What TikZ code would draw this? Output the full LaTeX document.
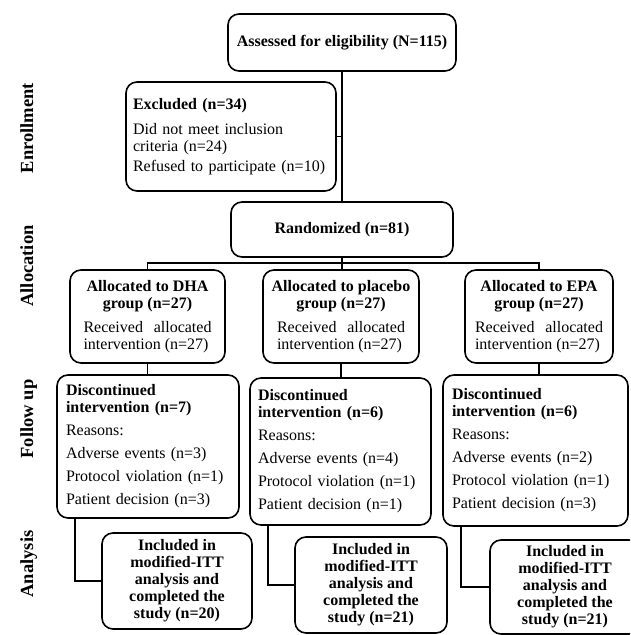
\documentclass[tikz,border=0pt]{standalone}
\usepackage{fontspec}
\setmainfont{Liberation Serif}

\tikzset{
  box/.style={draw, line width=1.6pt, rounded corners=11pt, inner sep=0pt,
    font=\fontsize{16}{17}\selectfont},
  anabox/.style={box, align=center, minimum height=96pt,
    font=\bfseries\fontsize{16}{17}\selectfont},
  phase/.style={rotate=90, anchor=base, font=\bfseries\fontsize{18.5}{20}\selectfont},
  link/.style={line width=1.6pt},
}
\newcommand{\recvd}{\makebox[128pt]{Received\hfill allocated}\\\makebox[128pt][l]{intervention (n=27)}}

\begin{document}
\begin{tikzpicture}[x=1pt,y=-1pt]
  \clip (0,0) rectangle (630,635);

  % phases
  \node[phase] (enrol)  at (33,128) {Enrollment};
  \node[phase] (alloc)  at (33,266) {Allocation};
  \node[phase] (follow) at (33,419) {Follow up};
  \node[phase] (analy)  at (33,564) {Analysis};

  % enrollment
  \node[box, minimum width=228pt, minimum height=57pt] (assess) at (342,42.5)
    {\textbf{Assessed for eligibility (N=115)}};
  \node[box, align=left, text width=196pt, inner xsep=7pt, minimum height=109pt] (excl) at (231,136.5)
    {\textbf{Excluded (n=34)}\\[8pt]Did not meet inclusion\\criteria (n=24)\\[3pt]Refused to participate (n=10)};
  \node[box, minimum width=222pt, minimum height=55pt] (rand) at (342,229.5)
    {\textbf{Randomized (n=81)}};

  % allocation
  \node[box, align=center, minimum width=155pt, minimum height=93pt] (dha) at (147.5,316.5)
    {\textbf{Allocated to DHA}\\\textbf{group (n=27)}\\[7pt]\recvd};
  \node[box, align=center, minimum width=156pt, minimum height=93pt] (plc) at (341,316.5)
    {\textbf{Allocated to placebo}\\\textbf{group (n=27)}\\[7pt]\recvd};
  \node[box, align=center, minimum width=148pt, minimum height=93pt] (epa) at (539,316.5)
    {\textbf{Allocated to EPA}\\\textbf{group (n=27)}\\[7pt]\recvd};

  % follow up
  \node[box, align=left, text width=164pt, inner xsep=9pt, minimum height=143pt] (dhafu) at (148,446.5)
    {\textbf{Discontinued}\\\textbf{intervention (n=7)}\\[6pt]Reasons:\\[6pt]Adverse events (n=3)\\[6pt]Protocol violation (n=1)\\[6pt]Patient decision (n=3)};
  \node[box, align=left, text width=165pt, inner xsep=8pt, minimum height=147pt] (plcfu) at (340.5,451.5)
    {\textbf{Discontinued}\\\textbf{intervention (n=6)}\\[6pt]Reasons:\\[6pt]Adverse events (n=4)\\[6pt]Protocol violation (n=1)\\[6pt]Patient decision (n=1)};
  \node[box, align=left, text width=167pt, inner xsep=9pt, minimum height=151pt] (epafu) at (535.5,450.5)
    {\textbf{Discontinued}\\\textbf{intervention (n=6)}\\[6pt]Reasons:\\[6pt]Adverse events (n=2)\\[6pt]Protocol violation (n=1)\\[6pt]Patient decision (n=3)};

  % analysis
  \node[anabox, minimum width=150pt] (dhaana) at (177,581)
    {Included in\\modified-ITT\\analysis and\\completed the\\study (n=20)};
  \node[anabox, minimum width=152pt] (plcana) at (371,585)
    {Included in\\modified-ITT\\analysis and\\completed the\\study (n=21)};
  \node[anabox, minimum width=150pt, minimum height=94pt] (epaana) at (565,587)
    {Included in\\modified-ITT\\analysis and\\completed the\\study (n=21)};

  % connectors
  \coordinate (split) at (342,263);
  \draw[link] (assess) -- (rand);
  \draw[link] (excl.east) -- (excl.east -| assess.south);
  \draw[link] (rand) -- (split);
  \draw[link] (dha.north) |- (split) -| (epa.north);
  \draw[link] (split) -- (split |- plc.north);
  \draw[link] (dha.south) -- (dha.south |- dhafu.north);
  \draw[link] (plc.south) -- (plc.south |- plcfu.north);
  \draw[link] (epa.south) -- (epa.south |- epafu.north);
  \draw[link] ([xshift=19pt]dhafu.south west) |- (dhaana.west);
  \draw[link] ([xshift=19pt]plcfu.south west) |- (plcana.west);
  \draw[link] ([xshift=19pt]epafu.south west) |- (epaana.west);
\end{tikzpicture}
\end{document}
